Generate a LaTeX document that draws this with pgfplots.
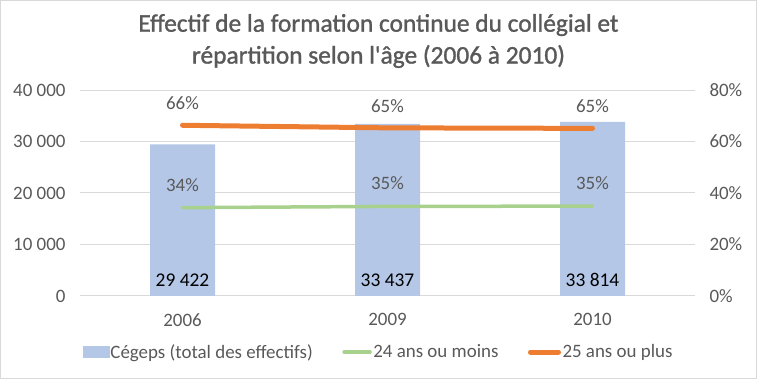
\documentclass[border=0pt]{standalone}
\usepackage{fontspec}
\setmainfont{Carlito}
\newfontfamily\titlefont[FakeBold=1.2]{Carlito}
\usepackage{pgfplots}
\pgfplotsset{compat=1.18}
\definecolor{barblue}{HTML}{B4C7E7}
\definecolor{lgreen}{HTML}{A9D18E}
\definecolor{orng}{HTML}{ED7D31}
\definecolor{txt}{HTML}{595959}
\definecolor{grd}{HTML}{D9D9D9}
\begin{document}
\begin{tikzpicture}
\useasboundingbox (0,0) rectangle (757bp,379bp);
\draw[grd, line width=1bp] (0.5bp,0.5bp) rectangle (756.5bp,378.5bp);
\node[text=txt, font=\titlefont\fontsize{25.5}{32}\selectfont, align=center] at (378.5bp,338bp) {Effectif de la formation continue du collégial et\\répartition selon l'âge (2006 à 2010)};
\begin{axis}[
  at={(80bp,83bp)}, anchor=south west,
  scale only axis, width=615bp, height=206bp,
  xmin=-0.5, xmax=2.5, ymin=0, ymax=40000,
  scaled y ticks=false,
  xtick={0,1,2}, xticklabels={2006,2009,2010},
  ytick={0,10000,20000,30000,40000},
  yticklabels={0,10 000,20 000,30 000,40 000},
  axis line style={draw=none}, major tick length=0pt,
  ymajorgrids, grid style={grd, line width=1bp},
  tick label style={text=txt, font=\fontsize{19}{20}\selectfont},
  yticklabel style={xshift=-11bp},
  xticklabel style={yshift=-14bp},
  clip=false,
]
\addplot[ybar, bar width=65bp, fill=barblue, draw=none] coordinates {(0,29422) (1,33437) (2,33814)};
\addplot[draw=none, mark=none, nodes near coords, point meta=explicit symbolic,
  every node near coord/.append style={anchor=center, text=black, font=\fontsize{19.5}{20}\selectfont}]
  coordinates {(0,3100) [29 422] (1,3100) [33 437] (2,3100) [33 814]};
\end{axis}
\begin{axis}[
  at={(80bp,83bp)}, anchor=south west,
  scale only axis, width=615bp, height=206bp,
  xmin=-0.5, xmax=2.5, ymin=0, ymax=80,
  hide x axis,
  axis y line*=right,
  ytick={0,20,40,60,80},
  yticklabels={0\%,20\%,40\%,60\%,80\%},
  axis line style={draw=none}, major tick length=0pt,
  tick label style={text=txt, font=\fontsize{19}{20}\selectfont},
  yticklabel style={xshift=11bp},
  clip=false,
  legend columns=3,
  legend style={draw=none, fill=none, at={(0.485,-0.272)}, anchor=center,
    font=\fontsize{19}{20}\selectfont, text=txt,
    nodes={inner sep=1.5bp},
    /tikz/every even column/.append style={column sep=28bp}},
]
\addlegendimage{legend image code/.code={\fill[barblue] (0bp,-5.5bp) rectangle (26bp,5.5bp);}}
\addlegendentry{Cégeps (total des effectifs)}
\addplot[lgreen, line width=3.5bp, line cap=round, mark=none,
  nodes near coords, point meta=explicit symbolic,
  every node near coord/.append style={anchor=center, yshift=23bp, text=txt, font=\fontsize{19}{20}\selectfont},
  legend image code/.code={\draw[lgreen, line width=3.5bp, line cap=round] (0bp,0bp) -- (26bp,0bp);}]
  coordinates {(0,34.3) [34\%] (1,34.8) [35\%] (2,34.9) [35\%]};
\addlegendentry{24 ans ou moins}
\addplot[orng, line width=5bp, line cap=round, mark=none,
  nodes near coords, point meta=explicit symbolic,
  every node near coord/.append style={anchor=center, yshift=22bp, text=txt, font=\fontsize{19}{20}\selectfont},
  legend image code/.code={\draw[orng, line width=5bp, line cap=round] (0bp,0bp) -- (28bp,0bp);}]
  coordinates {(0,66.3) [66\%] (1,65.3) [65\%] (2,65.1) [65\%]};
\addlegendentry{25 ans ou plus}
\end{axis}
\end{tikzpicture}
\end{document}
